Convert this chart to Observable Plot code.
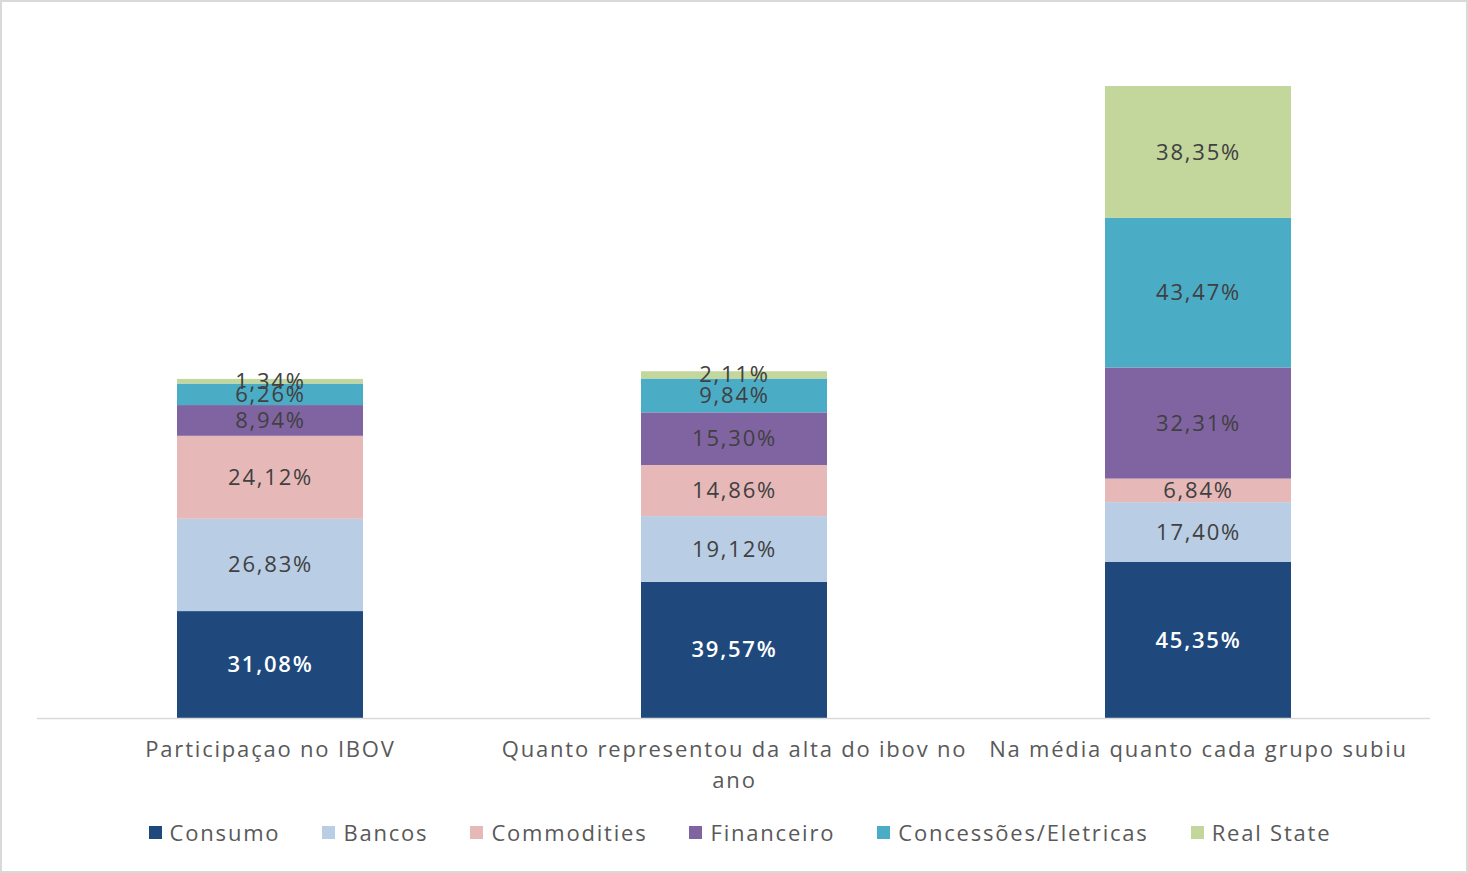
<!DOCTYPE html>
<html>
<head>
<meta charset="utf-8">
<script src="https://cdn.jsdelivr.net/npm/d3@7"></script>
<script src="https://cdn.jsdelivr.net/npm/@observablehq/plot@0.6"></script>
<style>
  html, body { margin: 0; padding: 0; background: #fff; }
  #wrap { position: relative; width: 1468px; height: 873px; overflow: hidden; font-family: "Open Sans", sans-serif; }
  #frame { position: absolute; inset: 0; border: 2px solid #d9d9d9; box-sizing: border-box; pointer-events: none; }
  #chart { position: absolute; left: 0; top: 0; }
  #chart svg text { letter-spacing: 1.8px; }
  #legend { position: absolute; left: 0; top: 818px; width: 1468px; height: 28px; display: flex; justify-content: center; align-items: center; font-size: 22px; color: #595959; letter-spacing: 1.8px; padding-left: 12px; box-sizing: border-box; }
  .item { display: flex; align-items: center; margin: 0 21px; }
  .sw { width: 13px; height: 13px; margin-right: 8px; }
</style>
</head>
<body>
<div id="wrap">
  <div id="chart"></div>
  <div id="legend"></div>
  <div id="frame"></div>
</div>
<script>
const categories = ["Participaçao no IBOV", "Quanto representou da alta do ibov no ano", "Na média quanto cada grupo subiu"];
const tickLabels = ["Participaçao no IBOV", "Quanto representou da alta do ibov no\nano", "Na média quanto cada grupo subiu"];
const seriesNames = ["Consumo", "Bancos", "Commodities", "Financeiro", "Concessões/Eletricas", "Real State"];
const seriesColors = ["#1F497D", "#B9CDE5", "#E6B9B8", "#8064A2", "#4BACC6", "#C3D69B"];
const consumo = [31.08, 39.57, 45.35];
const bancos = [26.83, 19.12, 17.40];
const commodities = [24.12, 14.86, 6.84];
const financeiro = [8.94, 15.30, 32.31];
const concessoes = [6.26, 9.84, 43.47];
const realState = [1.34, 2.11, 38.35];

const seriesValues = [consumo, bancos, commodities, financeiro, concessoes, realState];
const data = [];
seriesNames.forEach((s, si) => {
  categories.forEach((c, ci) => {
    data.push({cat: c, series: s, value: seriesValues[si][ci]});
  });
});
const fmt = v => v.toFixed(2).replace(".", ",") + "%";
const tickMap = new Map(categories.map((c, i) => [c, tickLabels[i]]));

const plot = Plot.plot({
  width: 1468,
  height: 800,
  marginTop: 30,
  marginBottom: 82,
  marginLeft: 37,
  marginRight: 38,
  style: {fontFamily: "Open Sans", fontSize: "22px", background: "transparent"},
  x: {domain: categories, paddingInner: 0.6, paddingOuter: 0.3, label: null},
  y: {domain: [0, 200], axis: null},
  color: {domain: seriesNames, range: seriesColors},
  marks: [
    Plot.barY(data, {x: "cat", y: "value", fill: "series", order: seriesNames}),
    Plot.ruleY([0], {stroke: "#d9d9d9", strokeWidth: 1.5}),
    Plot.text(data, Plot.filter(d => d.series === "Consumo", Plot.stackY({x: "cat", y: "value", z: "series", order: seriesNames, text: d => fmt(d.value), fill: "white", fontWeight: 600, fontSize: 22}))),
    Plot.text(data, Plot.filter(d => d.series !== "Consumo", Plot.stackY({x: "cat", y: "value", z: "series", order: seriesNames, text: d => fmt(d.value), fill: "#404040", fontSize: 22}))),
    Plot.axisX({tickSize: 0, tickPadding: 16, fill: "#595959", fontSize: 22, lineHeight: 1.41, tickFormat: d => tickMap.get(d), label: null})
  ]
});
document.getElementById("chart").appendChild(plot);

const legend = document.getElementById("legend");
seriesNames.forEach((s, i) => {
  const item = document.createElement("div");
  item.className = "item";
  const sw = document.createElement("div");
  sw.className = "sw";
  sw.style.background = seriesColors[i];
  const t = document.createElement("span");
  t.textContent = s;
  item.appendChild(sw);
  item.appendChild(t);
  legend.appendChild(item);
});
</script>
</body>
</html>
